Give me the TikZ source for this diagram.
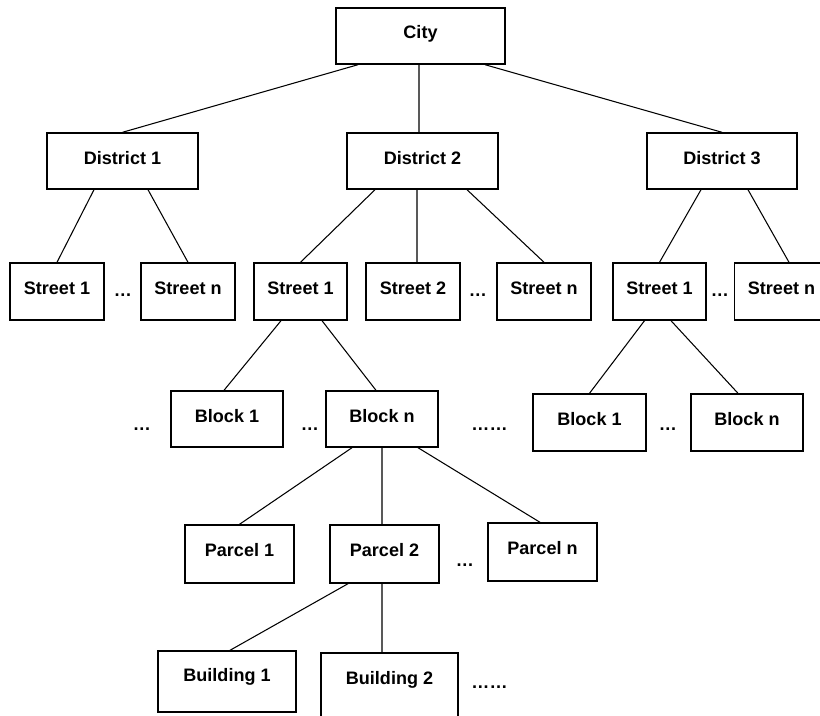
\documentclass[tikz,border=0pt]{standalone}
\usepackage{fontspec}
\setmainfont{Liberation Sans}
\usepackage{tikz}
\usetikzlibrary{positioning}

\begin{document}
\begin{tikzpicture}[
    box/.style={rectangle, draw, line width=1.2pt, minimum height=1.68cm, align=center,
        font=\fontsize{15.4pt}{18pt}\selectfont\bfseries, text height=0.39cm, text depth=0.21cm, inner sep=0pt},
    link/.style={line width=0.9pt},
    dots/.style={font=\fontsize{15.4pt}{18pt}\selectfont\bfseries, anchor=base, inner sep=0pt}
]
\useasboundingbox (0,0) rectangle (24.6,-21.45);

% ============ city and districts ============
\node[box, minimum width=5.07cm] (city) at (12.615,-1.08) {City};
\node[box, minimum width=4.53cm] (d1) at (3.675,-4.83) {District 1};
\node[box, minimum width=4.53cm] (d2) at (12.675,-4.83) {District 2};
\node[box, minimum width=4.5cm] (d3) at (21.66,-4.83) {District 3};

\draw[link] ([xshift=-1.875cm]city.south) -- (d1.north);
\draw[link] ([xshift=-0.045cm]city.south) -- ([xshift=-0.105cm]d2.north);
\draw[link] ([xshift=1.935cm]city.south) -- (d3.north);

% ============ streets ============
\node[box, minimum width=2.82cm, minimum height=1.71cm, text depth=0.24cm] (d1-s1) at (1.71,-8.745) {Street 1};
\node[box, minimum width=2.82cm, minimum height=1.71cm, text depth=0.24cm] (d1-sn) at (5.64,-8.745) {Street n};
\node[box, minimum width=2.79cm, minimum height=1.71cm, text depth=0.24cm] (d2-s1) at (9.015,-8.745) {Street 1};
\node[box, minimum width=2.82cm, minimum height=1.71cm, text depth=0.24cm] (d2-s2) at (12.39,-8.745) {Street 2};
\node[box, minimum width=2.82cm, minimum height=1.71cm, text depth=0.24cm] (d2-sn) at (16.32,-8.745) {Street n};
\node[box, minimum width=2.79cm, minimum height=1.71cm, text depth=0.24cm] (d3-s1) at (19.785,-8.745) {Street 1};
\node[box, minimum width=2.82cm, minimum height=1.71cm, text depth=0.24cm] (d3-sn) at (23.445,-8.745) {Street n};

\node[dots] (d1-dots) at (3.69,-8.895) {…};
\node[dots] (d2-dots) at (14.34,-8.895) {…};
\node[dots] (d3-dots) at (21.6,-8.895) {…};

\draw[link] ([xshift=-0.855cm]d1.south) -- (d1-s1.north);
\draw[link] ([xshift=0.765cm]d1.south) -- (d1-sn.north);
\draw[link] ([xshift=-1.425cm]d2.south) -- (d2-s1.north);
\draw[link] ([xshift=-0.165cm]d2.south) -- ([xshift=0.12cm]d2-s2.north);
\draw[link] ([xshift=1.335cm]d2.south) -- (d2-sn.north);
\draw[link] ([xshift=-0.63cm]d3.south) -- (d3-s1.north);
\draw[link] ([xshift=0.78cm]d3.south) -- ([xshift=0.225cm]d3-sn.north);

% ============ blocks ============
\node[box, minimum width=3.36cm] (d2-b1) at (6.81,-12.57) {Block 1};
\node[box, minimum width=3.36cm] (d2-bn) at (11.46,-12.57) {Block n};
\node[box, minimum width=3.39cm, minimum height=1.71cm, text depth=0.24cm] (d3-b1) at (17.685,-12.675) {Block 1};
\node[box, minimum width=3.36cm, minimum height=1.71cm, text depth=0.24cm] (d3-bn) at (22.41,-12.675) {Block n};

\node[dots] (b-dots-a) at (4.26,-12.9) {…};
\node[dots] (b-dots-b) at (9.3,-12.9) {…};
\node[dots] (b-dots-c) at (14.685,-12.9) {……};
\node[dots] (b-dots-d) at (20.04,-12.9) {…};

\draw[link] ([xshift=-0.585cm]d2-s1.south) -- ([xshift=-0.09cm]d2-b1.north);
\draw[link] ([xshift=0.645cm]d2-s1.south) -- ([xshift=-0.18cm]d2-bn.north);
\draw[link] ([xshift=-0.45cm]d3-s1.south) -- (d3-b1.north);
\draw[link] ([xshift=0.345cm]d3-s1.south) -- ([xshift=-0.27cm]d3-bn.north);

% ============ parcels ============
\node[box, minimum width=3.27cm, minimum height=1.74cm, text depth=0.27cm] (p1) at (7.185,-16.62) {Parcel 1};
\node[box, minimum width=3.27cm, minimum height=1.74cm, text depth=0.27cm] (p2) at (11.535,-16.62) {Parcel 2};
\node[box, minimum width=3.27cm, minimum height=1.74cm, text depth=0.27cm] (pn) at (16.275,-16.56) {Parcel n};

\node[dots] (p-dots) at (13.95,-16.98) {…};

\draw[link] ([xshift=-0.9cm]d2-bn.south) -- (p1.north);
\draw[link] (d2-bn.south) -- ([xshift=-0.075cm]p2.north);
\draw[link] ([xshift=1.08cm]d2-bn.south) -- ([xshift=-0.075cm]pn.north);

% ============ buildings ============
\node[box, minimum width=4.14cm, minimum height=1.83cm, text depth=0.39cm] (bu1) at (6.81,-20.445) {Building 1};
\node[box, minimum width=4.11cm, minimum height=1.98cm, text depth=0.51cm] (bu2) at (11.685,-20.58) {Building 2};

\node[dots] (bu-dots) at (14.685,-20.64) {……};

\draw[link] ([xshift=-1.095cm]p2.south) -- ([xshift=0.09cm]bu1.north);
\draw[link] ([xshift=-0.075cm]p2.south) -- ([xshift=-0.225cm]bu2.north);

\end{tikzpicture}
\end{document}
